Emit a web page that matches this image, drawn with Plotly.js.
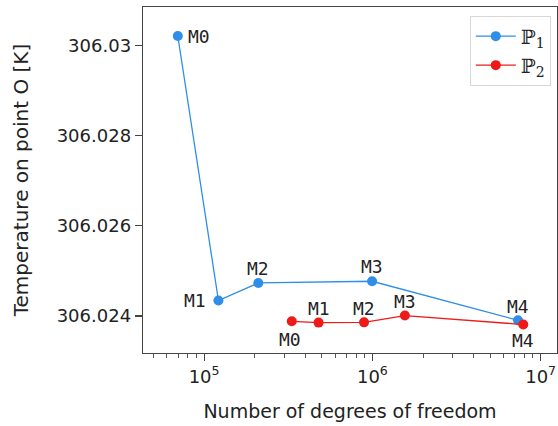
<!DOCTYPE html>
<html>
<head>
<meta charset="utf-8">
<script src="https://cdn.plot.ly/plotly-3.0.1.min.js"></script>
<style>html,body{margin:0;padding:0;background:#fff;}</style>
</head>
<body>
<div id="chart" style="width:558px;height:426px;"></div>
<script>
// Data
const p1Dofs = [69800, 121700, 210000, 996000, 7330000];
const p1Temp = [306.030216, 306.024342, 306.024733, 306.024771, 306.023904];
const p1Labels = ["M0", "M1", "M2", "M3", "M4"];

const p2Dofs = [332000, 479000, 892000, 1560000, 7880000];
const p2Temp = [306.023882, 306.023853, 306.023858, 306.024009, 306.02381];
const p2Labels = ["M0", "M1", "M2", "M3", "M4"];

const seriesNames = ["ℙ<sub>1</sub>", "ℙ<sub>2</sub>"];
const yTicks = [306.024, 306.026, 306.028, 306.03];
const yTickText = ["306.024", "306.026", "306.028", "306.03"];

// label placement (style only): [xanchor, xshift, yshift]
const p1Place = [["left", 8, 0], ["right", -10, 0], ["center", 0, 14], ["center", 0, 14.5], ["center", 0, 13.5]];
const p2Place = [["center", -2, -18], ["center", 0, 14], ["center", 0, 14], ["center", 0, 14.5], ["center", 0, -16]];

const blue = "#2e8ee8";
const red = "#ee1a1a";

const traces = [
  {x: p1Dofs, y: p1Temp, name: seriesNames[0], mode: "lines+markers",
   line: {color: blue, width: 1.3}, marker: {color: blue, size: 10}},
  {x: p2Dofs, y: p2Temp, name: seriesNames[1], mode: "lines+markers",
   line: {color: red, width: 1.3}, marker: {color: red, size: 10}}
];

const annFont = {family: "DejaVu Sans Mono, monospace", size: 18, color: "#222"};
const annotations = [];
p1Dofs.forEach((d, i) => annotations.push({
  x: Math.log10(d), y: p1Temp[i], xref: "x", yref: "y", text: p1Labels[i],
  showarrow: false, xanchor: p1Place[i][0], yanchor: "middle",
  xshift: p1Place[i][1], yshift: p1Place[i][2], font: annFont
}));
p2Dofs.forEach((d, i) => annotations.push({
  x: Math.log10(d), y: p2Temp[i], xref: "x", yref: "y", text: p2Labels[i],
  showarrow: false, xanchor: p2Place[i][0], yanchor: "middle",
  xshift: p2Place[i][1], yshift: p2Place[i][2], font: annFont
}));

const tickFont = {family: "DejaVu Sans, sans-serif", size: 18, color: "#222"};

const layout = {
  width: 558, height: 426,
  margin: {l: 143, r: 1, t: 7, b: 73},
  paper_bgcolor: "#fff", plot_bgcolor: "#fff",
  showlegend: true,
  legend: {x: 0.985, y: 0.975, xanchor: "right", yanchor: "top",
           bordercolor: "#d8d8d8", borderwidth: 1, bgcolor: "#fff",
           font: {family: "DejaVu Serif, serif", size: 20, color: "#222"},
           itemwidth: 40, tracegroupgap: 0},
  xaxis: {
    type: "log", range: [4.637, 7.097],
    showgrid: false, zeroline: false,
    showline: true, mirror: true, linecolor: "#444", linewidth: 1.3,
    ticks: "outside", ticklen: 7, tickwidth: 1.1, tickcolor: "#444",
    tickvals: [1e5, 1e6, 1e7], ticktext: ["10<sup>5</sup>", "10<sup>6</sup>", "10<sup>7</sup>"],
    tickfont: tickFont,
    minor: {ticks: "outside", ticklen: 4, tickwidth: 0.9, tickcolor: "#444", showgrid: false, dtick: "D1"},
    title: {text: "Number of degrees of freedom", font: {family: "DejaVu Sans, sans-serif", size: 19, color: "#222"}, standoff: 18}
  },
  yaxis: {
    range: [306.023178, 306.03086],
    showgrid: false, zeroline: false,
    showline: true, mirror: true, linecolor: "#444", linewidth: 1.3,
    ticks: "outside", ticklen: 7, tickwidth: 1.1, tickcolor: "#444",
    tickvals: yTicks, ticktext: yTickText,
    tickfont: tickFont,
    title: {text: "Temperature on point O [K]", font: {family: "DejaVu Sans, sans-serif", size: 20, color: "#222"}, standoff: 22}
  },
  annotations: annotations
};

Plotly.newPlot("chart", traces, layout, {displayModeBar: false, staticPlot: true});
</script>
</body>
</html>
